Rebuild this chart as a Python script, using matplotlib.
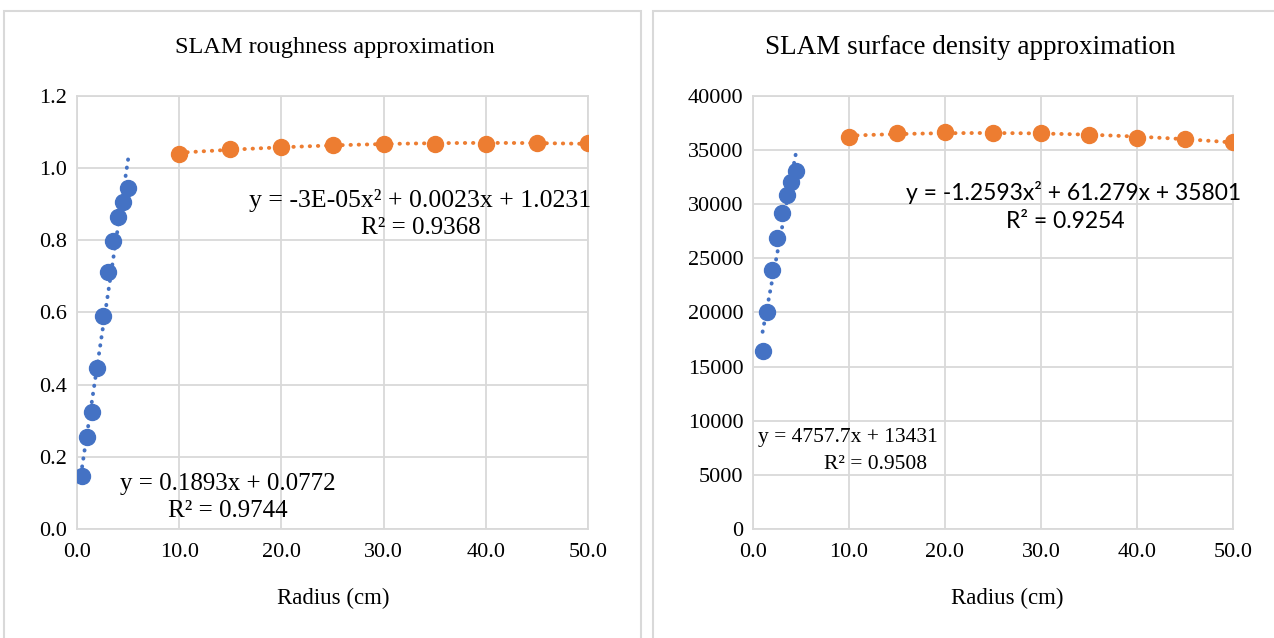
import matplotlib.pyplot as plt
import numpy as np
from matplotlib.patches import Rectangle
from matplotlib.ticker import FormatStrFormatter

# roughness chart
rough_x_near = [0.5, 1.0, 1.5, 2.0, 2.5, 3.0, 3.5, 4.0, 4.5, 5.0]
rough_y_near = [0.148, 0.254, 0.323, 0.445, 0.591, 0.711, 0.798, 0.864, 0.907, 0.944]
rough_x_far = [10, 15, 20, 25, 30, 35, 40, 45, 50]
rough_y_far = [1.040, 1.053, 1.060, 1.064, 1.066, 1.068, 1.068, 1.069, 1.069]

# surface density chart
dens_x_near = [1.0, 1.5, 2.0, 2.5, 3.0, 3.5, 4.0, 4.5]
dens_y_near = [16400, 20050, 23900, 26850, 29150, 30850, 32050, 33050]
dens_x_far = [10, 15, 20, 25, 30, 35, 40, 45, 50]
dens_y_far = [36230, 36540, 36660, 36610, 36540, 36360, 36150, 35990, 35780]

BLUE = '#4472C4'
ORANGE = '#ED7D31'
GRID = '#D9D9D9'
SERIF = 'Liberation Serif'
W, H = 1274, 638


def trend(ax, x, y, deg, color):
    coef = np.polyfit(x, y, deg)
    xs = np.linspace(min(x), max(x), 100)
    ax.plot(xs, np.polyval(coef, xs), color=color, lw=2.8,
            linestyle=(0, (0.1, 2.0)), dash_capstyle='round', zorder=2)


def style(ax, ymax, ystep, yfmt):
    ax.set_xlim(0, 50)
    ax.set_ylim(0, ymax)
    ax.set_xticks(np.arange(0, 51, 10))
    ax.set_yticks(np.arange(0, ymax + ystep / 2, ystep))
    ax.xaxis.set_major_formatter(FormatStrFormatter('%.1f'))
    ax.yaxis.set_major_formatter(FormatStrFormatter(yfmt))
    ax.grid(True, color=GRID, lw=1.3)
    ax.set_axisbelow(True)
    for s in ax.spines.values():
        s.set_color(GRID)
        s.set_linewidth(1.3)
    ax.tick_params(length=0, labelsize=16)
    ax.tick_params(axis='y', pad=7)
    ax.tick_params(axis='x', pad=10)
    for lab in ax.get_xticklabels() + ax.get_yticklabels():
        lab.set_fontfamily(SERIF)


fig = plt.figure(figsize=(W / 100, H / 100), dpi=100)

# panel frames
fig.patches.append(Rectangle((4 / W, -0.01), 637 / W, 1 - 11 / H + 0.01,
                             transform=fig.transFigure, fill=False, ec=GRID, lw=1.5))
fig.patches.append(Rectangle((653 / W, -0.01), 640 / W, 1 - 11 / H + 0.01,
                             transform=fig.transFigure, fill=False, ec=GRID, lw=1.5))

ax1 = fig.add_axes([77 / W, 109 / H, 511 / W, 433 / H])
ax2 = fig.add_axes([753 / W, 109 / H, 480 / W, 433 / H])

trend(ax1, rough_x_near, rough_y_near, 1, BLUE)
trend(ax1, rough_x_far, rough_y_far, 2, ORANGE)
ax1.plot(rough_x_near, rough_y_near, 'o', color=BLUE, ms=11.5, zorder=3)
ax1.plot(rough_x_far, rough_y_far, 'o', color=ORANGE, ms=11.5, zorder=3)
style(ax1, 1.2, 0.2, '%.1f')
ax1.text(33.6, 0.91, 'y = -3E-05x² + 0.0023x + 1.0231', ha='center', va='center',
         fontsize=18.5, family=SERIF)
ax1.text(33.6, 0.833, 'R² = 0.9368', ha='center', va='center', fontsize=18, family=SERIF)
ax1.text(14.8, 0.125, 'y = 0.1893x + 0.0772', ha='center', va='center',
         fontsize=18, family=SERIF)
ax1.text(14.8, 0.05, 'R² = 0.9744', ha='center', va='center', fontsize=18, family=SERIF)

trend(ax2, dens_x_near, dens_y_near, 1, BLUE)
trend(ax2, dens_x_far, dens_y_far, 2, ORANGE)
ax2.plot(dens_x_near, dens_y_near, 'o', color=BLUE, ms=11.5, zorder=3)
ax2.plot(dens_x_far, dens_y_far, 'o', color=ORANGE, ms=11.5, zorder=3)
style(ax2, 40000, 5000, '%d')
ax2.text(33.4, 31090, 'y = -1.2593x² + 61.279x + 35801', ha='center', va='center',
         fontsize=16.5, family='Lato')
ax2.text(32.5, 28390, 'R² = 0.9254', ha='center', va='center', fontsize=16.5, family='Lato')
ax2.text(9.9, 8460, 'y = 4757.7x + 13431', ha='center', va='center',
         fontsize=15.5, family=SERIF)
ax2.text(12.8, 5960, 'R² = 0.9508', ha='center', va='center', fontsize=15.5, family=SERIF)

# titles and axis titles placed over the chart areas like Excel does
fig.text(335 / W, 1 - 47 / H, 'SLAM roughness approximation', ha='center', va='center',
         fontsize=17.5, family=SERIF)
fig.text(970 / W, 1 - 47 / H, 'SLAM surface density approximation', ha='center', va='center',
         fontsize=19.5, family=SERIF)
fig.text(333 / W, 1 - 598 / H, 'Radius (cm)', ha='center', va='center',
         fontsize=16.5, family=SERIF)
fig.text(1007 / W, 1 - 598 / H, 'Radius (cm)', ha='center', va='center',
         fontsize=16.5, family=SERIF)

fig.savefig('out.png', dpi=100, facecolor='white')
